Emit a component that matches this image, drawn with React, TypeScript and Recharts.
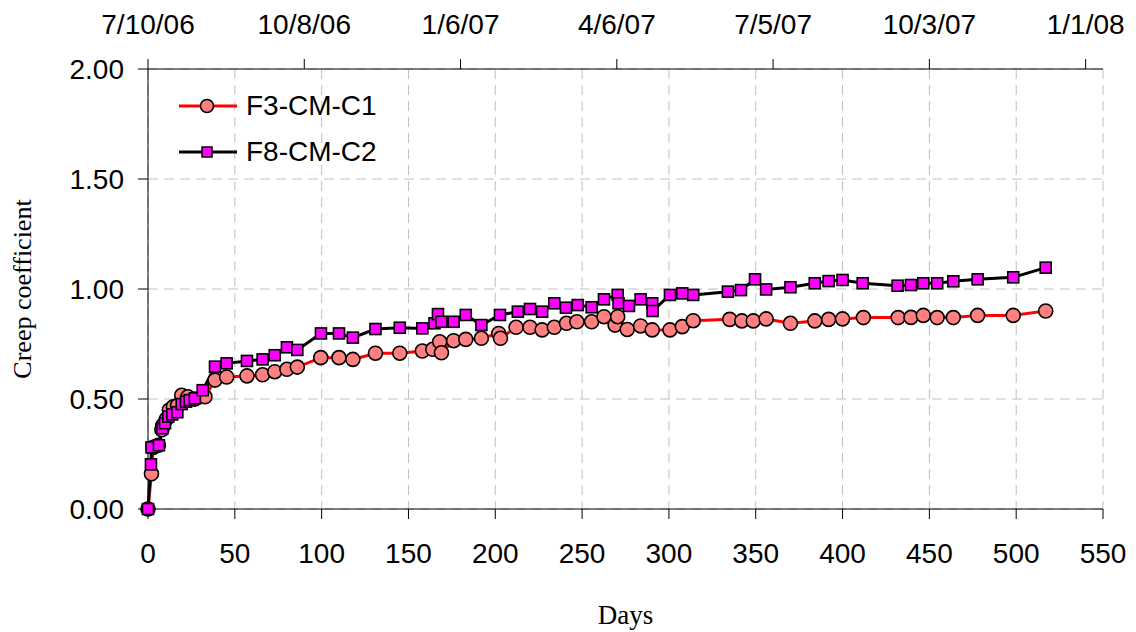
import React from 'react';
import { LineChart, Line, XAxis, YAxis, CartesianGrid } from 'recharts';

const f3Days = [
  0, 2, 3, 6, 8, 8.5, 10.7, 12.3, 14.6, 17, 19.4, 23, 27, 32.8, 38.6, 45.3, 57, 66, 73, 80, 86,
  99.5, 110, 118, 131, 145, 158, 164, 168, 169, 176, 183, 192, 202, 203, 212, 220, 227, 234,
  241, 247, 255.5, 262.6, 269, 270.5, 276, 283.7, 290.4, 300.6, 307.7, 314, 335, 342, 348.6,
  356, 370, 384, 392, 400, 412, 432, 439.4, 446.5, 454.5, 463.8, 477.8, 498.3, 517,
];
const f3Values = [
  0, 0.16, 0.28, 0.29, 0.36, 0.38, 0.41, 0.45, 0.465, 0.47, 0.517, 0.51, 0.5, 0.51, 0.586, 0.6,
  0.605, 0.61, 0.624, 0.635, 0.645, 0.688, 0.688, 0.68, 0.708, 0.708, 0.718, 0.726, 0.76, 0.71,
  0.765, 0.771, 0.776, 0.798, 0.776, 0.826, 0.826, 0.814, 0.826, 0.844, 0.851, 0.851, 0.874,
  0.836, 0.874, 0.816, 0.832, 0.814, 0.814, 0.829, 0.856, 0.862, 0.855, 0.855, 0.864, 0.844,
  0.855, 0.862, 0.864, 0.87, 0.87, 0.871, 0.88, 0.87, 0.87, 0.88, 0.88, 0.9,
];

const f8Days = [
  0, 1.7, 2, 6.3, 8.3, 9.8, 11.7, 14, 16.9, 19.4, 21.9, 24, 27, 31.5, 38.6, 45.3, 57, 66, 73,
  80, 86, 99.6, 110, 118, 131, 145, 158, 165, 167, 169, 176, 183, 192, 202.7, 213, 220, 227,
  234, 240.7, 247.5, 255.5, 262.6, 270.5, 271, 277, 283.7, 290.4, 290.6, 300.6, 307.7, 314,
  334, 341.5, 349.6, 356, 370, 384, 392, 400, 411.6, 431.7, 439.4, 446.5, 454.5, 463.8, 477.8,
  498.3, 517,
];
const f8Values = [
  0, 0.203, 0.28, 0.29, 0.367, 0.39, 0.42, 0.43, 0.44, 0.477, 0.488, 0.495, 0.503, 0.54, 0.647,
  0.662, 0.673, 0.68, 0.699, 0.735, 0.723, 0.798, 0.798, 0.779, 0.818, 0.824, 0.821, 0.844,
  0.886, 0.851, 0.851, 0.882, 0.836, 0.882, 0.897, 0.909, 0.897, 0.935, 0.915, 0.927, 0.917,
  0.953, 0.973, 0.935, 0.923, 0.953, 0.935, 0.9, 0.973, 0.98, 0.973, 0.988, 0.995, 1.044,
  0.998, 1.008, 1.026, 1.036, 1.041, 1.026, 1.015, 1.018, 1.026, 1.026, 1.035, 1.044, 1.053,
  1.097,
];

const dayTicks = [0, 50, 100, 150, 200, 250, 300, 350, 400, 450, 500, 550];
const dateTicks = [0, 90, 180, 270, 360, 450, 540];
const dateLabels = ['7/10/06', '10/8/06', '1/6/07', '4/6/07', '7/5/07', '10/3/07', '1/1/08'];
const yTicks = [0, 0.5, 1, 1.5, 2];

const f3Data = f3Days.map((d, i) => ({ day: d, v: f3Values[i] }));
const f8Data = f8Days.map((d, i) => ({ day: d, v: f8Values[i] }));

const SANS = '"Liberation Sans", Arial, sans-serif';
const SERIF = '"Liberation Serif", "Times New Roman", serif';
const tickStyle = { fontFamily: SANS, fontSize: 28, fill: '#000' };

const CircleDot = (props: any) => {
  const { cx, cy, index } = props;
  if (cx == null || cy == null) return <g key={`c-${index}`} />;
  return <circle key={`c-${index}`} cx={cx} cy={cy} r={7} fill="#ff8080" stroke="#000" strokeWidth={1.6} />;
};

const SquareDot = (props: any) => {
  const { cx, cy, index } = props;
  if (cx == null || cy == null) return <g key={`s-${index}`} />;
  return (
    <rect key={`s-${index}`} x={cx - 5.5} y={cy - 5.5} width={11} height={11} fill="#ff00ff" stroke="#000" strokeWidth={1.6} />
  );
};

// legend drawn over the plot, top-left like the original
const LegendBox = () => (
  <svg width={260} height={90} style={{ position: 'absolute', left: 170, top: 80 }}>
    <line x1={9} y1={26} x2={67} y2={26} stroke="#ff0000" strokeWidth={3} />
    <circle cx={37} cy={26} r={6.5} fill="#ff8080" stroke="#000" strokeWidth={1.5} />
    <text x={76} y={35} fontFamily={SANS} fontSize={28} fill="#000">F3-CM-C1</text>
    <line x1={9} y1={72} x2={67} y2={72} stroke="#000" strokeWidth={3} />
    <rect x={32} y={67} width={10} height={10} fill="#ff00ff" stroke="#000" strokeWidth={1.5} />
    <text x={76} y={81} fontFamily={SANS} fontSize={28} fill="#000">F8-CM-C2</text>
  </svg>
);

export default function App() {
  return (
    <div style={{ position: 'absolute', left: 0, top: 0, width: 1136, height: 632, background: '#fff' }}>
      <LineChart width={1136} height={632} data={f3Data} margin={{ top: 0, right: 33, bottom: 0, left: 0 }}>
        <CartesianGrid xAxisId="bottom" yAxisId="left" stroke="#c0c0c0" strokeDasharray="10 6" />
        <XAxis
          xAxisId="bottom"
          type="number"
          dataKey="day"
          domain={[0, 550]}
          ticks={dayTicks}
          height={123}
          tick={tickStyle}
          tickSize={10}
          tickMargin={24}
          stroke="#000"
          label={{ value: 'Days', position: 'insideBottom', offset: 8, style: { fontFamily: SERIF, fontSize: 27, fill: '#000' } }}
        />
        <XAxis
          xAxisId="top"
          orientation="top"
          type="number"
          dataKey="day"
          domain={[0, 550]}
          ticks={dateTicks}
          tickFormatter={(t: number) => dateLabels[dateTicks.indexOf(t)] ?? ''}
          height={69}
          tick={tickStyle}
          tickSize={10}
          tickMargin={25}
          stroke="#000"
        />
        <YAxis
          yAxisId="left"
          type="number"
          domain={[0, 2]}
          ticks={yTicks}
          tickFormatter={(v: number) => v.toFixed(2)}
          width={148}
          tick={tickStyle}
          tickSize={10}
          tickMargin={14}
          stroke="#000"
          label={{ value: 'Creep coefficient', angle: -90, position: 'insideLeft', offset: 22, style: { fontFamily: SERIF, fontSize: 26, fill: '#000', textAnchor: 'middle' } }}
        />
        <YAxis yAxisId="right" orientation="right" domain={[0, 2]} tick={false} tickLine={false} width={0} stroke="#444" />
        {/* invisible series so the top date axis is tied to the data */}
        <Line
          xAxisId="top"
          yAxisId="right"
          data={f3Data}
          dataKey="v"
          stroke="none"
          dot={false}
          activeDot={false}
          legendType="none"
          isAnimationActive={false}
        />
        <Line
          xAxisId="bottom"
          yAxisId="left"
          data={f3Data}
          dataKey="v"
          name="F3-CM-C1"
          stroke="#ff0000"
          strokeWidth={3}
          dot={CircleDot}
          activeDot={false}
          isAnimationActive={false}
        />
        <Line
          xAxisId="bottom"
          yAxisId="left"
          data={f8Data}
          dataKey="v"
          name="F8-CM-C2"
          stroke="#000"
          strokeWidth={3}
          dot={SquareDot}
          activeDot={false}
          isAnimationActive={false}
        />
      </LineChart>
      <LegendBox />
    </div>
  );
}
